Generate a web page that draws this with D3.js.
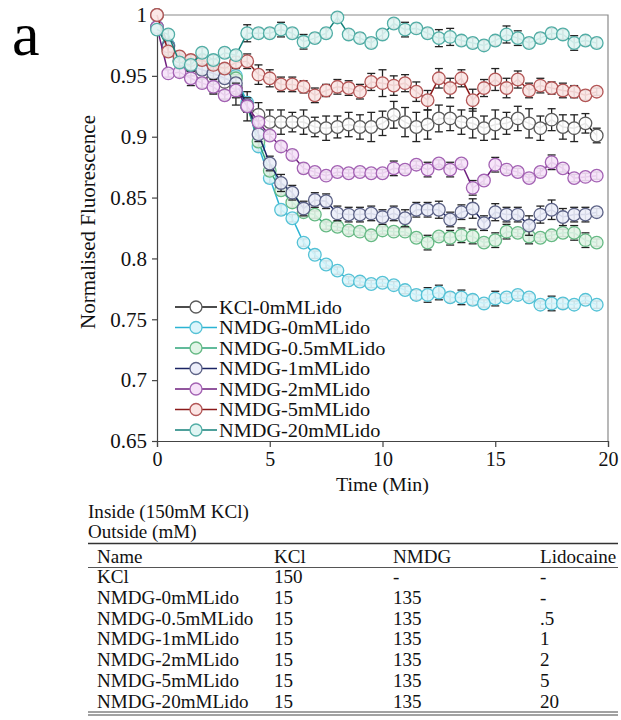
<!DOCTYPE html>
<html><head><meta charset="utf-8">
<script src="https://cdn.jsdelivr.net/npm/d3@7"></script>
<style>html,body{margin:0;padding:0;background:#fff;}svg{display:block;}
svg text{font-family:"Liberation Serif","Times New Roman",Times,serif !important;}</style>
</head><body>
<svg id="chart" width="621" height="720"></svg>
<script>
// ---------- data ----------
const times = [0,0.5,1,1.5,2,2.5,3,3.5,4,4.5,5,5.5,6,6.5,7,7.5,8,8.5,9,9.5,
  10,10.5,11,11.5,12,12.5,13,13.5,14,14.5,15,15.5,16,16.5,17,17.5,18,18.5,19,19.5];
const seriesNames = ["KCl-0mMLido","NMDG-0mMLido","NMDG-0.5mMLido","NMDG-1mMLido","NMDG-2mMLido","NMDG-5mMLido","NMDG-20mMLido"];
const kcl = [1.000,0.975,0.962,0.958,0.952,0.948,0.945,0.940,0.925,0.918,
  0.912,0.912,0.912,0.912,0.908,0.907,0.908,0.910,0.908,0.908,
  0.911,0.918,0.912,0.908,0.910,0.915,0.915,0.912,0.911,0.907,
  0.910,0.911,0.915,0.911,0.907,0.914,0.908,0.907,0.911,0.901];
const nmdg0 = [0.990,0.975,0.965,0.962,0.960,0.957,0.955,0.950,0.928,0.892,
  0.866,0.840,0.833,0.813,0.803,0.795,0.790,0.782,0.781,0.779,
  0.780,0.778,0.774,0.770,0.770,0.772,0.768,0.768,0.766,0.763,
  0.767,0.768,0.770,0.768,0.762,0.763,0.763,0.762,0.766,0.762];
const nmdg05 = [0.990,0.972,0.962,0.960,0.957,0.955,0.952,0.948,0.925,0.896,
  0.872,0.856,0.846,0.838,0.836,0.827,0.826,0.823,0.822,0.819,
  0.823,0.822,0.822,0.817,0.813,0.818,0.817,0.819,0.818,0.813,
  0.815,0.822,0.821,0.818,0.817,0.819,0.821,0.821,0.815,0.813];
const nmdg1 = [0.990,0.974,0.963,0.958,0.955,0.952,0.948,0.944,0.926,0.902,
  0.878,0.862,0.854,0.841,0.848,0.847,0.837,0.836,0.836,0.837,
  0.834,0.837,0.833,0.840,0.840,0.840,0.832,0.838,0.841,0.829,
  0.838,0.836,0.836,0.827,0.836,0.840,0.834,0.836,0.836,0.838];
const nmdg2 = [0.990,0.952,0.953,0.948,0.944,0.941,0.934,0.938,0.925,0.912,
  0.901,0.892,0.885,0.874,0.871,0.868,0.871,0.870,0.871,0.870,
  0.870,0.874,0.873,0.877,0.873,0.878,0.873,0.878,0.858,0.864,
  0.877,0.873,0.871,0.866,0.871,0.879,0.874,0.866,0.867,0.868];
const nmdg5 = [1.000,0.970,0.966,0.963,0.963,0.959,0.956,0.961,0.962,0.951,
  0.948,0.943,0.943,0.941,0.934,0.938,0.941,0.940,0.937,0.945,
  0.944,0.942,0.944,0.937,0.930,0.948,0.940,0.948,0.930,0.940,
  0.947,0.940,0.947,0.938,0.942,0.940,0.938,0.937,0.934,0.937];
const nmdg20 = [0.988,0.984,0.961,0.959,0.969,0.963,0.969,0.967,0.985,0.985,
  0.985,0.988,0.985,0.978,0.981,0.985,0.998,0.984,0.981,0.977,
  0.984,0.993,0.988,0.989,0.985,0.981,0.982,0.979,0.977,0.975,
  0.979,0.984,0.981,0.977,0.981,0.985,0.984,0.977,0.979,0.977];
// error bars (estimated half-widths)
const kclErr = [0,0.004,0.006,0.008,0.012,0.012,0.014,0.014,0.012,0.010,
  0.010,0.010,0.008,0.010,0.008,0.010,0.009,0.010,0.010,0.012,
  0.010,0.011,0.012,0.012,0.012,0.011,0.010,0.010,0.012,0.010,
  0.012,0.009,0.010,0.012,0.010,0.009,0.010,0.011,0.008,0.006];
const nmdg0Err = [0,0.003,0.003,0.003,0.003,0.003,0.003,0.003,0.004,0.004,
  0.004,0.004,0.003,0.003,0.003,0.003,0.003,0.003,0.003,0.003,
  0.003,0.003,0.003,0.004,0.006,0.006,0.004,0.006,0.004,0.003,
  0.006,0.003,0.003,0.003,0.003,0.006,0.004,0.003,0.003,0.003];
const nmdg05Err = [0,0.003,0.003,0.003,0.003,0.003,0.003,0.003,0.004,0.004,
  0.004,0.004,0.004,0.003,0.003,0.003,0.003,0.003,0.003,0.003,
  0.003,0.003,0.003,0.003,0.006,0.003,0.006,0.006,0.006,0.003,
  0.006,0.006,0.003,0.006,0.003,0.003,0.003,0.006,0.006,0.003];
const nmdg1Err = [0,0.004,0.004,0.004,0.004,0.004,0.004,0.004,0.006,0.006,
  0.006,0.007,0.006,0.006,0.006,0.006,0.006,0.006,0.006,0.006,
  0.006,0.006,0.007,0.006,0.006,0.007,0.006,0.006,0.008,0.006,
  0.007,0.006,0.006,0.008,0.007,0.008,0.007,0.006,0.006,0.003];
const nmdg2Err = [0,0.003,0.004,0.006,0.004,0.006,0.004,0.006,0.004,0.004,
  0.004,0.004,0.004,0.004,0.003,0.003,0.003,0.003,0.003,0.003,
  0.003,0.006,0.003,0.003,0.006,0.003,0.006,0.003,0.006,0.003,
  0.006,0.003,0.003,0.003,0.003,0.006,0.003,0.003,0.003,0.003];
const nmdg5Err = [0,0.004,0.004,0.004,0.004,0.004,0.004,0.005,0.006,0.008,
  0.007,0.006,0.006,0.005,0.006,0.005,0.006,0.006,0.006,0.007,
  0.011,0.008,0.007,0.008,0.008,0.008,0.008,0.007,0.009,0.007,
  0.009,0.008,0.007,0.006,0.006,0.005,0.006,0.005,0.004,0.003];
const nmdg20Err = [0,0.004,0.004,0.004,0.004,0.004,0.004,0.004,0.007,0.004,
  0.004,0.006,0.004,0.006,0.004,0.004,0.004,0.004,0.004,0.004,
  0.004,0.004,0.006,0.004,0.004,0.007,0.007,0.004,0.004,0.004,
  0.004,0.007,0.006,0.004,0.004,0.004,0.004,0.006,0.004,0.004];
const xTicks = [0,5,10,15,20];
const yTicks = [0.65,0.7,0.75,0.8,0.85,0.9,0.95,1];
const yTickLabels = ["0.65","0.7","0.75","0.8","0.85","0.9","0.95","1"];
// table
const tableTitle1 = "Inside (150mM KCl)";
const tableTitle2 = "Outside (mM)";
const tableHeader = ["Name","KCl","NMDG","Lidocaine"];
const tableNames = ["KCl","NMDG-0mMLido","NMDG-0.5mMLido","NMDG-1mMLido","NMDG-2mMLido","NMDG-5mMLido","NMDG-20mMLido"];
const tableKCl = ["150","15","15","15","15","15","15"];
const tableNMDG = ["-","135","135","135","135","135","135"];
const tableLido = ["-","-",".5","1","2","5","20"];

// ---------- styles ----------
const styles = [
  {line:"#111111", stroke:"#5a5a5a", fill:"#ffffff"},
  {line:"#2bb4d4", stroke:"#55c2d6", fill:"#dcf5fb"},
  {line:"#2ea57a", stroke:"#66b984", fill:"#e1f4e6"},
  {line:"#1b2464", stroke:"#5c6286", fill:"#eceefa"},
  {line:"#6e1f7e", stroke:"#a362b3", fill:"#f6e2f9"},
  {line:"#8b1a1a", stroke:"#b35656", fill:"#fbe5e4"},
  {line:"#14807a", stroke:"#52aea6", fill:"#e0f5f3"}
];
const values = [kcl,nmdg0,nmdg05,nmdg1,nmdg2,nmdg5,nmdg20];
const errs = [kclErr,nmdg0Err,nmdg05Err,nmdg1Err,nmdg2Err,nmdg5Err,nmdg20Err];

const svg = d3.select("#chart");
const L = 157, R = 608, T = 15, B = 441;
const x = d3.scaleLinear().domain([0,20]).range([L,R]);
const y = d3.scaleLinear().domain([0.65,1]).range([B,T]);

function addText(parent, tx, ty, str, size, sx, anchor){
  return parent.append("text")
    .attr("transform",`translate(${tx},${ty}) scale(${sx},1)`)
    .attr("font-size",size).attr("fill","#111")
    .attr("text-anchor",anchor||"start").text(str);
}

// panel label
svg.append("text").attr("x",12).attr("y",55)
  .attr("font-size",62).attr("fill","#000").text("a");

// frame top/right
svg.append("path").attr("d",`M${L},${T}H${R}V${B}`).attr("fill","none")
  .attr("stroke","#8a8a8a").attr("stroke-width",1.2);

// axes
const yAxis = svg.append("g").attr("transform",`translate(${L},0)`)
  .call(d3.axisLeft(y).tickValues(yTicks).tickSize(5).tickPadding(5)
    .tickFormat((d,i)=>yTickLabels[i]));
const xAxis = svg.append("g").attr("transform",`translate(0,${B})`)
  .call(d3.axisBottom(x).tickValues(xTicks).tickSize(6).tickPadding(3)
    .tickFormat(d=>String(d)));
[yAxis,xAxis].forEach(a=>{
  a.selectAll("path.domain").attr("stroke","#444").attr("stroke-width",1.2);
  a.selectAll(".tick line").attr("stroke","#444").attr("stroke-width",1.2);
  a.selectAll("text").attr("fill","#111");
});
yAxis.selectAll("text").attr("font-size",21);
xAxis.selectAll("text").attr("font-size",20).attr("dy","0.8em");

addText(svg,(L+R)/2,491,"Time (Min)",19,1.05,"middle");
svg.append("text").attr("transform","translate(95,222) rotate(-90)").attr("text-anchor","middle")
  .attr("font-size",21).attr("fill","#111").text("Normalised Fluorescence");

// series
const lineGen = d3.line().x((d,i)=>x(times[i])).y(d=>y(d));
const r = 6.3;
values.forEach((vals,s)=>{
  const g = svg.append("g");
  const st = styles[s];
  const eb = g.append("g").attr("stroke","#222").attr("stroke-width",1.3);
  vals.forEach((v,i)=>{
    const e = errs[s][i];
    if(!e) return;
    const cx = x(times[i]);
    eb.append("line").attr("x1",cx).attr("x2",cx).attr("y1",y(v+e)).attr("y2",y(v-e));
    eb.append("line").attr("x1",cx-4).attr("x2",cx+4).attr("y1",y(v+e)).attr("y2",y(v+e));
    eb.append("line").attr("x1",cx-4).attr("x2",cx+4).attr("y1",y(v-e)).attr("y2",y(v-e));
  });
  g.append("path").datum(vals).attr("d",lineGen).attr("fill","none")
    .attr("stroke",st.line).attr("stroke-width",1.5);
  g.selectAll("circle").data(vals).join("circle")
    .attr("cx",(d,i)=>x(times[i])).attr("cy",d=>y(d)).attr("r",r)
    .attr("fill",st.fill).attr("fill-opacity",0.9).attr("stroke",st.stroke).attr("stroke-width",1.3);
});

// legend
const leg = svg.append("g");
seriesNames.forEach((n,i)=>{
  const ly = 307 + i*20.5;
  const st = styles[i];
  leg.append("line").attr("x1",175).attr("x2",217).attr("y1",ly).attr("y2",ly)
    .attr("stroke",st.line).attr("stroke-width",1.5);
  leg.append("circle").attr("cx",196).attr("cy",ly).attr("r",6)
    .attr("fill",st.fill).attr("stroke",st.stroke).attr("stroke-width",1.3);
  addText(leg,219,ly+6.5,n,18.3,1.11);
});

// table
const tfs = 18;
const tsx = 1.06;
const tg = svg.append("g");
addText(tg,88,518,tableTitle1,tfs,tsx);
addText(tg,88,538,tableTitle2,tfs,tsx);
tg.append("line").attr("x1",88).attr("x2",618).attr("y1",543.5).attr("y2",543.5).attr("stroke","#333").attr("stroke-width",1.6);
const colX = [97,274,393,540];
tableHeader.forEach((h,j)=>addText(tg,colX[j],563,h,tfs,tsx));
tg.append("line").attr("x1",88).attr("x2",618).attr("y1",567.5).attr("y2",567.5).attr("stroke","#555").attr("stroke-width",1);
tableNames.forEach((n,i)=>{
  const ry = 583 + i*20.8;
  [n,tableKCl[i],tableNMDG[i],tableLido[i]].forEach((t,j)=>addText(tg,colX[j],ry,t,tfs,tsx));
});
tg.append("line").attr("x1",88).attr("x2",618).attr("y1",712).attr("y2",712).attr("stroke","#444").attr("stroke-width",1);
tg.append("line").attr("x1",88).attr("x2",618).attr("y1",715).attr("y2",715).attr("stroke","#444").attr("stroke-width",1);
</script>
</body></html>
